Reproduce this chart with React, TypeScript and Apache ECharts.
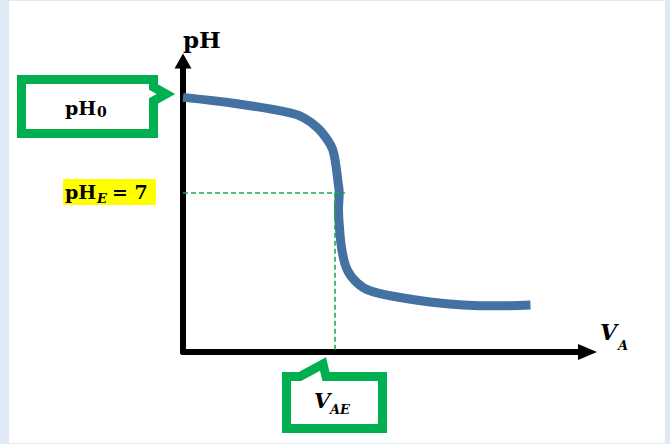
import { useEffect, useRef } from "react";
import * as echarts from "echarts";

// Titration curve: added acid volume (mL) vs pH
const vA = [0, 7.1, 14.1, 15.9, 17.7, 19.0, 19.7, 20.1, 20.4, 20.55, 20.45, 20.55, 20.9, 21.6, 22.9, 24.6, 28.2, 32.5, 36.8, 41.3, 45.7];
const pH = [11.2, 10.92, 10.52, 10.3, 9.86, 9.33, 8.89, 8.23, 7.44, 7.0, 6.3, 5.6, 4.49, 3.61, 3.04, 2.69, 2.42, 2.2, 2.07, 2.03, 2.07];

// Equivalence point
const PH_E = 7;
const V_AE = 20;
const H_END = 21.3;

const X_MAX = 53.2;
const Y_MAX = 12.8;

const GREEN = "#00b050";
const BLUE = "#4371a2";
const SERIF = '"DejaVu Serif", "Liberation Serif", serif';

type Piece = { text: string; x: number; y: number; size: number; italic?: boolean };

const textEl = (p: Piece) => ({
  type: "text",
  x: p.x,
  y: p.y,
  z: 100,
  style: {
    text: p.text,
    fill: "#000",
    fontFamily: SERIF,
    fontWeight: "bold",
    fontStyle: p.italic ? "italic" : "normal",
    fontSize: p.size,
    textAlign: "left",
    textVerticalAlign: "middle",
  },
});

export default function App() {
  const ref = useRef<HTMLDivElement>(null);

  useEffect(() => {
    const chart = echarts.init(ref.current!, null, { renderer: "svg" });

    const labels: Piece[] = [
      { text: "pH", x: 183, y: 39, size: 23 },
      { text: "pH", x: 65, y: 108, size: 19 },
      { text: "0", x: 97, y: 112, size: 14 },
      { text: "pH", x: 65, y: 192, size: 19 },
      { text: "E", x: 97, y: 198, size: 13, italic: true },
      { text: "= 7", x: 112, y: 192, size: 19 },
      { text: "V", x: 600, y: 332, size: 22, italic: true },
      { text: "A", x: 618, y: 345, size: 13, italic: true },
      { text: "V", x: 314, y: 400, size: 21, italic: true },
      { text: "AE", x: 330, y: 409, size: 13, italic: true },
    ];

    const option: any = {
      animation: false,
      backgroundColor: "#dfe9f5",
      grid: {
        left: 183,
        right: 82.5,
        top: 61,
        bottom: 92,
        containLabel: false,
        outerBoundsMode: "none",
      },
      xAxis: {
        type: "value",
        min: 0,
        max: X_MAX,
        axisLine: {
          show: true,
          symbol: ["none", "triangle"],
          symbolSize: [16, 19],
          lineStyle: { color: "#000", width: 6 },
        },
        axisTick: { show: false },
        axisLabel: { show: false },
        splitLine: { show: false },
      },
      yAxis: {
        type: "value",
        min: 0,
        max: Y_MAX,
        axisLine: {
          show: true,
          symbol: ["none", "triangle"],
          symbolSize: [17, 15],
          lineStyle: { color: "#000", width: 6 },
        },
        axisTick: { show: false },
        axisLabel: { show: false },
        splitLine: { show: false },
      },
      series: [
        {
          type: "line",
          data: vA.map((v, i) => [v, pH[i]]),
          smooth: 0.4,
          showSymbol: false,
          z: 3,
          lineStyle: { color: BLUE, width: 9, cap: "butt" },
          markLine: {
            silent: true,
            symbol: "none",
            z: 5,
            label: { show: false },
            emphasis: { disabled: true },
            lineStyle: { color: "#1aa653", width: 1.6, type: [5, 3], opacity: 1 },
            data: [
              [{ coord: [0, PH_E] }, { coord: [H_END, PH_E] }],
              [{ coord: [V_AE, PH_E] }, { coord: [V_AE, 0] }],
            ],
          },
        },
      ],
      graphic: [
        {
          type: "rect",
          z: -100,
          shape: { x: 9, y: 1, width: 656, height: 442 },
          style: { fill: "#fff" },
        },
        {
          type: "polygon",
          z: 90,
          shape: {
            points: [
              [21.5, 79.5],
              [153.5, 79.5],
              [153.5, 87],
              [166, 94],
              [153.5, 101],
              [153.5, 133.5],
              [21.5, 133.5],
            ],
          },
          style: { fill: "#fff", stroke: GREEN, lineWidth: 9, lineJoin: "miter" },
        },
        {
          type: "polygon",
          z: 90,
          shape: {
            points: [
              [286.5, 428.5],
              [286.5, 376.5],
              [300, 376.5],
              [323, 364],
              [326, 376.5],
              [382.5, 376.5],
              [382.5, 428.5],
            ],
          },
          style: { fill: "#fff", stroke: GREEN, lineWidth: 9, lineJoin: "miter" },
        },
        {
          type: "rect",
          z: 90,
          shape: { x: 63, y: 179, width: 93, height: 26 },
          style: { fill: "#ffff00" },
        },
        ...labels.map(textEl),
      ],
    };

    chart.setOption(option);
    return () => chart.dispose();
  }, []);

  return (
    <div
      ref={ref}
      style={{ position: "fixed", left: 0, top: 0, width: 670, height: 444 }}
    />
  );
}
